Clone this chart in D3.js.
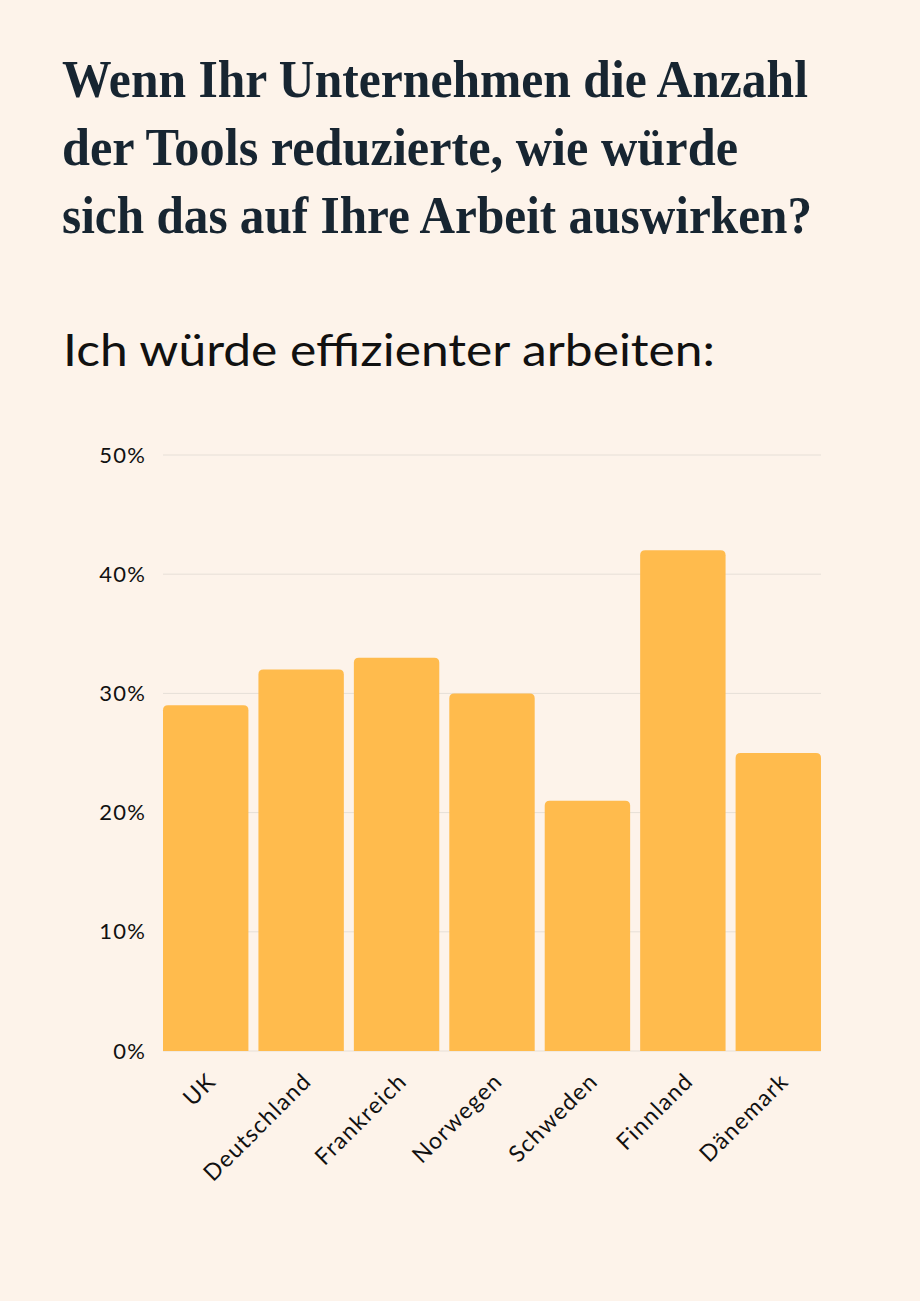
<!DOCTYPE html>
<html>
<head>
<meta charset="utf-8">
<script src="https://cdn.jsdelivr.net/npm/d3@7"></script>
<style>
  html, body { margin:0; padding:0; background:#fdf3ea; }
  svg { display:block; }
</style>
</head>
<body>
<div id="chart"></div>
<script>
(function(){
  // Daten
  const titleLines = [
    'Wenn Ihr Unternehmen die Anzahl',
    'der Tools reduzierte, wie würde',
    'sich das auf Ihre Arbeit auswirken?'
  ];
  const subtitle = 'Ich würde effizienter arbeiten:';
  const countries = ['UK','Deutschland','Frankreich','Norwegen','Schweden','Finnland','Dänemark'];
  const values = [0.29, 0.32, 0.33, 0.30, 0.21, 0.42, 0.25];
  const yTicks = [0, 0.1, 0.2, 0.3, 0.4, 0.5];

  const W = 920, H = 1301;
  const svg = d3.select('#chart').append('svg')
    .attr('width', W).attr('height', H);

  svg.append('rect').attr('width', W).attr('height', H).attr('fill', '#fdf3ea');

  // Titel
  const titleW = [746, 676, 750];
  svg.selectAll('text.title').data(titleLines).enter().append('text')
    .attr('class','title')
    .attr('x', 62)
    .attr('y', (d,i) => 97 + i*68)
    .attr('textLength', (d,i) => titleW[i])
    .attr('lengthAdjust', 'spacingAndGlyphs')
    .style('font-family', '"Liberation Serif", serif')
    .style('font-weight', 700)
    .style('font-size', '53px')
    .attr('fill', '#172531')
    .text(d => d);

  svg.append('text')
    .attr('x', 63).attr('y', 366)
    .attr('textLength', 652)
    .attr('lengthAdjust', 'spacingAndGlyphs')
    .style('font-family', 'Lato, sans-serif')
    .style('font-size', '44px')
    .attr('fill', '#111')
    .text(subtitle);

  // Skalen
  const x = d3.scaleBand().domain(countries).range([163, 821])
    .paddingInner(0.105).paddingOuter(0);
  const y = d3.scaleLinear().domain([0, 0.5]).range([1051, 455]);

  // Gitterlinien
  svg.append('g').selectAll('line').data(yTicks).enter().append('line')
    .attr('x1', 163).attr('x2', 821)
    .attr('y1', d => y(d)).attr('y2', d => y(d))
    .attr('stroke', '#e6dfd7').attr('stroke-width', 1);

  // Y-Achse
  svg.append('g').attr('transform','translate(146,0)')
    .call(d3.axisLeft(y).tickValues(yTicks).tickFormat(d3.format('.0%')).tickSize(0).tickPadding(0))
    .call(g => g.select('.domain').remove())
    .selectAll('text')
      .style('font-family', 'Lato, sans-serif')
      .style('font-size', '22px')
      .style('letter-spacing', '1.2px')
      .attr('fill', '#111');

  // Balken mit abgerundeten Ecken oben
  const r = 5;
  function barPath(x0, y0, w, h){
    return `M${x0},${y0+h}V${y0+r}Q${x0},${y0} ${x0+r},${y0}H${x0+w-r}Q${x0+w},${y0} ${x0+w},${y0+r}V${y0+h}Z`;
  }
  svg.append('g').selectAll('path').data(countries).enter().append('path')
    .attr('d', (d,i) => barPath(x(d), y(values[i]), x.bandwidth(), y(0) - y(values[i])))
    .attr('fill', '#ffbb4d');

  // X-Achse
  svg.append('g').attr('transform', `translate(0,${y(0)})`)
    .call(d3.axisBottom(x).tickSize(0).tickPadding(0))
    .call(g => g.select('.domain').remove())
    .selectAll('text')
      .attr('transform', 'translate(6,26) rotate(-45)')
      .attr('dy', '0.35em')
      .style('text-anchor', 'end')
      .style('font-family', 'Lato, sans-serif')
      .style('font-size', '23px')
      .style('letter-spacing', '1.3px')
      .attr('fill', '#111');
})();
</script>
</body>
</html>
